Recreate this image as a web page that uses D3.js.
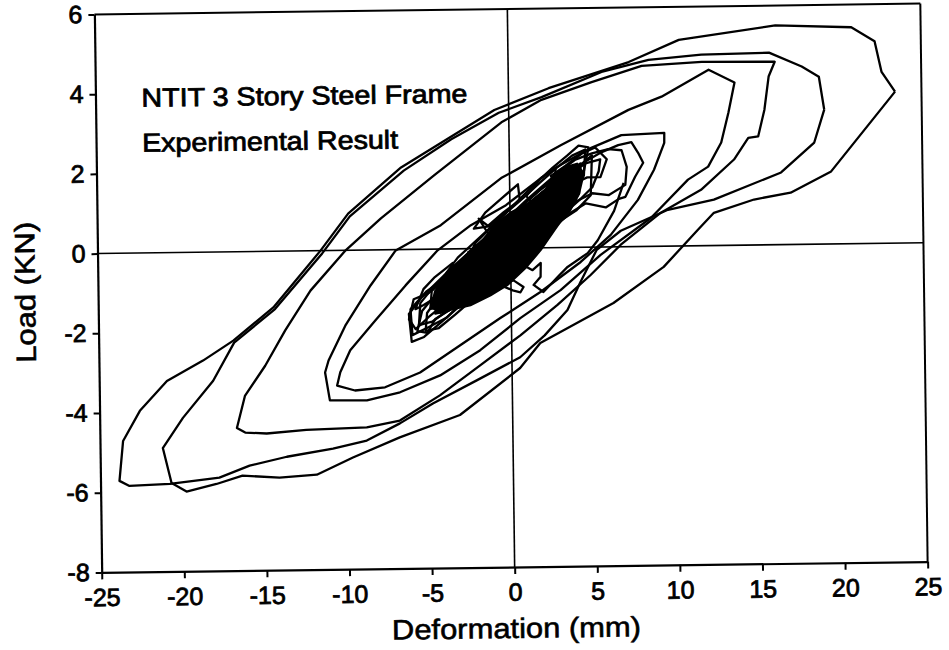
<!DOCTYPE html>
<html><head><meta charset="utf-8">
<script src="https://cdn.jsdelivr.net/npm/d3@7"></script>
<style>html,body{margin:0;padding:0;background:#fff;}svg{display:block}</style>
</head><body>
<svg id="chart" width="949" height="650"></svg>
<script>
// ---- tick values & labels ----
const xTicks = [-25,-20,-15,-10,-5,0,5,10,15,20,25];
const xTickLabels = ["-25","-20","-15","-10","-5","0","5","10","15","20","25"];
const yTicks = [-8,-6,-4,-2,0,2,4,6];
const yTickLabels = ["-8","-6","-4","-2","0","2","4","6"];
const titleLines = ["NTIT 3 Story Steel Frame","Experimental Result"];
const xTitle = "Deformation (mm)";
const yTitle = "Load (KN)";

// ---- large cycles (deformation mm, load kN) ----
const cycleOuter = [[23.4,3.8],[22.6,4.3],[22.2,5.07],[20.8,5.43],[16.2,5.5],[10.35,5.17],[7.3,4.63],[2.43,4.0],[-0.87,3.47],[-6.56,2.06],[-9.8,0.92],[-11.5,0.0],[-14.4,-1.41],[-16.85,-2.23],[-18.7,-2.72],[-20.9,-3.22],[-22.56,-3.96],[-23.6,-4.71],[-23.85,-5.71],[-23.25,-5.84],[-20.8,-5.8],[-17.8,-5.66],[-15.96,-5.37],[-13.7,-5.16],[-10.9,-4.97],[-8.85,-4.78],[-6.83,-4.36],[-4.82,-3.87],[-2.12,-3.3],[0.5,-2.74],[2.0,-2.2],[3.4,-1.57],[4.21,-0.87],[5.22,-0.07],[6.69,0.4],[9.56,0.91],[12.35,1.15],[16.44,1.81],[18.47,2.55],[19.1,3.37]];
const cycleSecond = [[19.1,3.37],[18.8,4.2],[17.77,4.46],[15.8,4.82],[11.7,4.79],[8.5,4.68],[5.65,4.39],[2.0,3.78],[-0.6,3.4],[-3.5,2.75],[-6.4,1.98],[-9.7,0.85],[-11.4,-0.07],[-14.3,-1.45],[-16.8,-2.28],[-18.1,-3.23],[-19.96,-4.15],[-21.2,-4.9],[-20.7,-5.78],[-19.8,-6.0],[-17.98,-5.82],[-16.4,-5.62],[-14.16,-5.68],[-11.9,-5.62],[-9.7,-5.2],[-6.85,-4.71],[-3.19,-4.17],[0.49,-3.01],[1.73,-2.39],[6.19,-1.41],[9.26,-0.52],[11.36,0.4],[12.34,0.82],[14.78,1.14],[17.0,1.3],[19.47,1.82],[23.4,3.8]];

// ---- medium loops (closed) ----
const loopC = [[16.14,4.59],[11.72,4.61],[8.08,4.53],[5.04,4.14],[1.99,3.71],[-0.45,3.16],[-4.57,1.85],[-7.82,0.79],[-9.98,0.0],[-12.14,-1.0],[-13.7,-1.99],[-14.94,-2.87],[-16.19,-3.62],[-16.7,-4.42],[-16.2,-4.54],[-14.9,-4.57],[-12.5,-4.49],[-8.84,-4.45],[-6.83,-4.29],[-4.39,-3.67],[-1.93,-2.93],[0.53,-2.19],[2.8,-1.44],[4.83,-0.7],[6.68,0.05],[9.13,0.84],[11.58,1.4],[13.6,2.15],[14.48,2.69],[15.08,2.72],[15.48,3.39],[15.76,4.22]];
const loopD = [[12.13,4.41],[9.26,3.75],[7.25,3.43],[3.15,2.57],[-0.51,1.76],[-4.2,0.6],[-6.95,-0.02],[-8.5,-0.89],[-10.06,-1.89],[-11.1,-2.76],[-11.32,-3.06],[-11.05,-3.76],[-8.81,-3.77],[-6.8,-3.58],[-4.36,-3.17],[-1.91,-2.55],[0.54,-1.76],[3.0,-1.07],[5.45,-0.2],[8.52,0.71],[10.8,1.66],[12.03,1.98],[12.84,2.58],[13.3,3.33],[13.69,4.08]];
const loopE = [[9.4,2.84],[6.8,2.8],[4.97,2.49],[2.52,1.94],[-0.24,1.08],[-2.38,0.59],[-4.41,-0.03],[-6.38,-0.9],[-8.24,-1.77],[-9.78,-2.51],[-10.4,-3.06],[-10.6,-3.39],[-9.52,-3.52],[-7.7,-3.45],[-5.57,-3.09],[-3.12,-2.42],[-0.67,-1.75],[1.78,-1.11],[4.24,-0.37],[6.08,0.3],[7.75,1.17],[8.75,1.92],[9.39,2.59]];

// ---- small loops of the dense central cluster (closed) ----
const s1 = [[5.0,2.3],[4.1,2.0],[3.0,1.62],[2.1,1.35],[1.0,0.92],[0.1,0.62],[-1.1,0.25],[-2.0,-0.1],[-3.1,-0.4],[-4.0,-0.75],[-5.1,-1.05],[-6.1,-1.5],[-6.0,-2.15],[-5.0,-1.95],[-3.9,-1.72],[-3.0,-1.35],[-2.1,-1.1],[-0.9,-0.7],[0.1,-0.42],[1.0,-0.02],[2.1,0.28],[3.0,0.66],[4.0,0.92],[4.9,1.3]];
const s2 = [[4.3,2.1],[3.4,1.85],[2.5,1.55],[1.4,1.2],[0.4,0.8],[-0.6,0.48],[-1.7,0.12],[-2.7,-0.25],[-3.8,-0.62],[-4.7,-0.95],[-5.5,-1.35],[-5.6,-1.9],[-4.8,-1.82],[-3.7,-1.5],[-2.6,-1.15],[-1.6,-0.85],[-0.5,-0.5],[0.5,-0.15],[1.6,0.2],[2.6,0.52],[3.6,0.9],[4.2,1.35]];
const s3 = [[6.8,2.42],[6.0,2.45],[5.0,2.35],[4.0,2.2],[3.0,1.9],[2.0,1.55],[1.0,1.2],[0.0,0.82],[-1.0,0.45],[-2.0,0.1],[-3.0,-0.28],[-4.0,-0.65],[-4.8,-1.05],[-4.9,-1.5],[-4.0,-1.45],[-3.0,-1.15],[-2.0,-0.82],[-1.0,-0.5],[0.0,-0.2],[1.0,0.15],[2.0,0.5],[3.0,0.85],[4.0,1.15],[5.0,1.35],[6.0,1.3],[7.0,1.55],[7.1,2.0]];
const s4 = [[3.5,1.85],[2.6,1.7],[1.6,1.38],[0.6,1.02],[-0.4,0.66],[-1.4,0.3],[-2.4,-0.05],[-3.4,-0.42],[-4.4,-0.8],[-5.4,-1.2],[-6.2,-1.62],[-6.05,-2.32],[-5.3,-2.2],[-4.3,-1.85],[-3.3,-1.5],[-2.3,-1.2],[-1.3,-0.85],[-0.3,-0.52],[0.7,-0.18],[1.7,0.18],[2.7,0.55],[3.3,1.0]];
const s5 = [[4.6,2.45],[3.8,2.3],[2.8,1.98],[1.8,1.62],[0.8,1.25],[-0.2,0.9],[-1.2,0.52],[-2.2,0.15],[-3.2,-0.22],[-3.9,-0.6],[-3.95,-1.2],[-3.2,-1.1],[-2.2,-0.8],[-1.2,-0.45],[-0.2,-0.12],[0.8,0.22],[1.8,0.58],[2.8,0.92],[3.8,1.3],[4.5,1.8]];
const s6 = [[3.0,1.78],[2.0,1.5],[1.0,1.15],[0.0,0.78],[-1.0,0.4],[-2.0,0.02],[-3.0,-0.4],[-3.2,-0.85],[-2.5,-0.98],[-1.5,-0.7],[-0.5,-0.38],[0.5,-0.05],[1.5,0.35],[2.5,0.75],[3.1,1.2]];
const s7 = [[2.8,1.98],[1.9,1.75],[0.9,1.35],[-0.1,0.95],[-1.1,0.55],[-2.1,0.15],[-2.6,-0.25],[-2.3,-0.6],[-1.3,-0.3],[-0.3,0.05],[0.7,0.42],[1.7,0.8],[2.6,1.25]];
const s8 = [[7.8,2.35],[7.4,2.62],[6.6,2.55],[5.6,2.38],[4.6,2.15],[3.6,1.85],[2.6,1.5],[1.6,1.12],[0.6,0.78],[-0.4,0.4],[-1.4,0.02],[-2.4,-0.38],[-3.4,-0.78],[-4.4,-1.2],[-5.1,-1.6],[-5.2,-2.05],[-4.4,-1.98],[-3.4,-1.65],[-2.4,-1.3],[-1.4,-0.95],[-0.4,-0.6],[0.6,-0.25],[1.6,0.12],[2.6,0.48],[3.6,0.85],[4.6,1.1],[5.8,0.99],[6.6,1.2],[7.0,1.25],[7.6,1.75],[8.1,2.1]];
const s9 = [[5.5,2.2],[4.6,2.1],[3.6,1.82],[2.6,1.45],[1.6,1.1],[0.6,0.72],[-0.4,0.35],[-1.4,-0.02],[-2.4,-0.4],[-3.4,-0.8],[-4.4,-1.18],[-4.6,-1.62],[-3.8,-1.55],[-2.8,-1.25],[-1.8,-0.92],[-0.8,-0.6],[0.2,-0.28],[1.2,0.08],[2.2,0.45],[3.2,0.82],[4.2,1.18],[5.0,1.5],[5.4,1.9]];
const s10 = [[2.0,1.4],[1.0,1.08],[0.0,0.7],[-1.0,0.3],[-1.9,-0.05],[-2.0,-0.5],[-1.1,-0.35],[-0.1,-0.02],[0.9,0.35],[1.9,0.8]];
const s12 = [[-1.2,-0.6],[-0.63,-0.85],[0.16,-0.81],[0.76,-0.98],[0.57,-1.11],[0.1,-1.06],[-0.5,-0.95],[-1.4,-0.85]];
const s14 = [[-1.0,0.0],[-2.0,-0.3],[-3.0,-0.62],[-4.0,-0.95],[-4.8,-1.25],[-5.4,-1.55],[-5.7,-2.05],[-5.1,-2.1],[-4.6,-1.75],[-3.8,-1.55],[-2.9,-1.2],[-2.0,-0.9],[-1.0,-0.55]];
const s15 = [[-2.5,-0.45],[-3.3,-0.55],[-4.2,-0.85],[-5.0,-1.1],[-5.9,-1.25],[-6.2,-1.75],[-5.8,-2.0],[-5.0,-1.7],[-4.1,-1.4],[-3.2,-1.05],[-2.4,-0.85]];
const s16 = [[4.8,2.5],[4.2,2.55],[3.5,2.3],[2.6,2.0],[1.8,1.7],[1.0,1.3],[1.5,1.05],[2.3,1.1],[3.0,1.3],[3.8,1.55],[4.5,1.9]];
const s17 = [[5.9,2.2],[5.2,2.5],[4.4,2.35],[3.4,2.05],[2.5,1.8],[3.0,1.45],[3.9,1.6],[4.7,1.75],[5.5,1.75]];
const s18 = [[-3.5,-0.35],[-4.6,-0.7],[-5.3,-1.0],[-5.8,-1.5],[-5.3,-1.4],[-4.5,-1.2],[-3.6,-0.9]];
const s19 = [[0.5,1.6],[-0.5,1.25],[-1.5,0.9],[-2.2,0.5],[-1.4,0.55],[-0.4,0.9],[0.6,1.2]];
// open wiggles
const s11 = [[-1.5,-0.9],[0.2,-0.3],[1.32,-0.56],[1.82,-0.38],[1.8,-0.73],[1.37,-0.93],[1.96,-1.11],[2.83,-0.74],[3.44,-0.49],[4.67,-0.15],[5.29,0.17],[6.3,0.9],[6.9,1.6]];
const s13 = [[-2.6,-0.1],[-1.2,0.28],[-1.9,0.75],[-1.3,0.55],[0.0,1.0]];
// region where the many small cycles overlap into solid black
const coreBand = [[-4.6,-1.05],[-3.7,-0.55],[-2.75,-0.18],[-1.8,0.15],[-0.87,0.62],[0.05,0.9],[1.27,1.15],[2.19,1.48],[2.69,1.82],[3.43,2.02],[4.1,2.1],[4.5,1.85],[4.2,1.35],[3.5,0.9],[2.7,0.45],[1.85,-0.05],[0.91,-0.5],[-0.2,-0.92],[-1.24,-1.18],[-2.46,-1.42],[-3.4,-1.5],[-4.3,-1.6],[-4.85,-1.45]];

const openSeries = [cycleOuter, cycleSecond, s11, s13];
const closedSeries = [loopC, loopD, loopE, s1, s2, s3, s4, s5, s6, s7, s8, s9, s10, s12, s14, s15, s16, s17, s18, s19];

// ---- drawing ----
const L = 98, R = 924, T = 9, B = 567;
const FONT = "'Liberation Sans', Arial, Helvetica, sans-serif";
const x = d3.scaleLinear().domain([-25, 25]).range([L, R]);
const y = d3.scaleLinear().domain([-8, 6]).range([B, T]);

const svg = d3.select("#chart");
svg.append("rect").attr("width", 949).attr("height", 650).attr("fill", "#fff");
const g = svg.append("g").attr("transform", "rotate(-0.75,511,288)");

// zero reference lines
g.append("line").attr("x1", x(0)).attr("x2", x(0)).attr("y1", T).attr("y2", B)
  .attr("stroke", "#000").attr("stroke-width", 1.6);
g.append("line").attr("x1", L).attr("x2", R).attr("y1", y(0)).attr("y2", y(0))
  .attr("stroke", "#000").attr("stroke-width", 1.6);

// frame top/right
g.append("line").attr("x1", L).attr("x2", R).attr("y1", T).attr("y2", T).attr("stroke", "#000").attr("stroke-width", 2);
g.append("line").attr("x1", R).attr("x2", R).attr("y1", T).attr("y2", B).attr("stroke", "#000").attr("stroke-width", 2);

// axes
const xAxis = d3.axisBottom(x).tickValues(xTicks).tickFormat((d, i) => xTickLabels[i])
  .tickSize(7).tickSizeOuter(0).tickPadding(9);
const yAxis = d3.axisLeft(y).tickValues(yTicks).tickFormat((d, i) => yTickLabels[i])
  .tickSize(6).tickSizeOuter(0).tickPadding(6);
const gx = g.append("g").attr("transform", `translate(0,${B})`).call(xAxis);
const gy = g.append("g").attr("transform", `translate(${L},0)`).call(yAxis);
[gx, gy].forEach(a => {
  a.select(".domain").attr("stroke", "#000").attr("stroke-width", 2.2);
  a.selectAll(".tick line").attr("stroke", "#000").attr("stroke-width", 2);
  a.selectAll(".tick text").attr("fill", "#000").style("font-family", FONT)
    .style("font-size", "25px").attr("stroke", "#000").attr("stroke-width", 0.8);
});

// data lines
const line = d3.line().x(d => x(d[0])).y(d => y(d[1]));
const lineClosed = d3.line().x(d => x(d[0])).y(d => y(d[1])).curve(d3.curveLinearClosed);

g.append("path").datum(coreBand).attr("d", lineClosed).attr("fill", "#000").attr("stroke", "#000").attr("stroke-width", 2);

g.selectAll("path.closed").data(closedSeries).enter().append("path").attr("class", "closed")
  .attr("d", lineClosed).attr("fill", "none").attr("stroke", "#000")
  .attr("stroke-width", 2.3).attr("stroke-linejoin", "round");
g.selectAll("path.open").data(openSeries).enter().append("path").attr("class", "open")
  .attr("d", line).attr("fill", "none").attr("stroke", "#000")
  .attr("stroke-width", 2.3).attr("stroke-linejoin", "round");

// annotation text
const widths = [326, 256];
g.selectAll("text.title").data(titleLines).enter().append("text").attr("class", "title")
  .attr("x", 144).attr("y", (d, i) => 102 + i * 45)
  .attr("textLength", (d, i) => widths[i]).attr("lengthAdjust", "spacingAndGlyphs")
  .style("font-family", FONT).style("font-size", "26px")
  .attr("fill", "#000").attr("stroke", "#000").attr("stroke-width", 0.8)
  .text(d => d);

// axis titles
g.append("text").attr("x", 512).attr("y", 638).attr("text-anchor", "middle")
  .attr("textLength", 249).attr("lengthAdjust", "spacingAndGlyphs")
  .style("font-family", FONT).style("font-size", "28px")
  .attr("fill", "#000").attr("stroke", "#000").attr("stroke-width", 0.6).text(xTitle);
g.append("text").attr("transform", "translate(35,286) rotate(-90)").attr("text-anchor", "middle")
  .attr("textLength", 141).attr("lengthAdjust", "spacingAndGlyphs")
  .style("font-family", FONT).style("font-size", "28px")
  .attr("fill", "#000").attr("stroke", "#000").attr("stroke-width", 0.6).text(yTitle);
</script>
</body></html>
